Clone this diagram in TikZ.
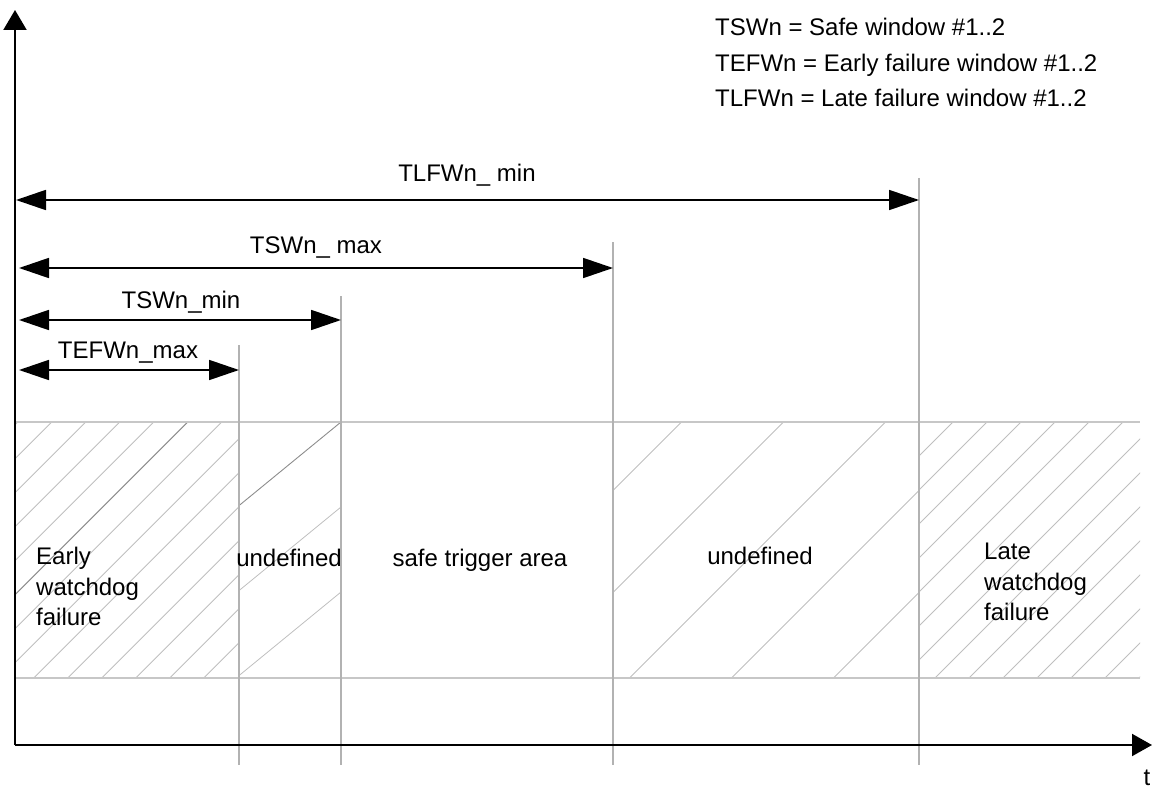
\documentclass[tikz,border=0pt]{standalone}
\usepackage{fontspec}
\setmainfont{Liberation Sans}
\usetikzlibrary{arrows.meta}
\begin{document}
\begin{tikzpicture}[x=1pt,y=-1pt,
  axis/.style={line width=2pt, black},
  dimarrow/.style={line width=1.8pt, black, {Triangle[length=30pt,width=20pt]}-{Triangle[length=30pt,width=20pt]}},
  gridline/.style={line width=1.4pt, black!30},
  hgrid/.style={line width=1.2pt, black!22},
  hatch/.style={line width=0.8pt, black!25},
  darkhatch/.style={line width=0.9pt, black!45},
  lbl/.style={font=\fontsize{24}{30.5}\selectfont, inner sep=0pt, align=left},
  ]
\useasboundingbox (0,0) rectangle (1157,789);

% ---------- hatching ----------
\begin{scope}
  \clip (15,422) rectangle (239,678);
  \foreach \k in {-1,...,14} {
    \pgfmathsetmacro\c{473.7+34*\k}
    \draw[hatch] ({\c-422},422) -- ({\c-678},678);
  }
  \draw[darkhatch] ({473.7+34*4-422},422) -- ({473.7+34*4-678},678);
\end{scope}
\begin{scope}
  \clip (239,422) rectangle (341,678);
  \draw[darkhatch] (341,422) -- (239,505.6);
  \foreach \k in {1,2} {
    \draw[hatch] (341,{422+85*\k}) -- (239,{505.6+85*\k});
  }
\end{scope}
\begin{scope}
  \clip (613,422) rectangle (919,678);
  \foreach \k in {-1,...,5} {
    \pgfmathsetmacro\c{1103.5+102*\k}
    \draw[hatch] ({\c-422},422) -- ({\c-678},678);
  }
\end{scope}
\begin{scope}
  \clip (919,422) rectangle (1140,678);
  \foreach \k in {-1,...,14} {
    \pgfmathsetmacro\c{1375+34*\k}
    \draw[hatch] ({\c-422},422) -- ({\c-678},678);
  }
\end{scope}

% ---------- coordinates ----------
\coordinate (hl1a) at (15,422);  \coordinate (hl1b) at (1140,422);
\coordinate (hl2a) at (15,678);  \coordinate (hl2b) at (1140,678);
\coordinate (v1t) at (239,345);  \coordinate (v1b) at (239,765);
\coordinate (v2t) at (341,296);  \coordinate (v2b) at (341,765);
\coordinate (v3t) at (613,242);  \coordinate (v3b) at (613,765);
\coordinate (v4t) at (919,178);  \coordinate (v4b) at (919,765);
\coordinate (origin) at (15,745);
\coordinate (ytip) at (15,10);
\coordinate (xtip) at (1152,745);

\coordinate (a1l) at (16,200);  \coordinate (a1r) at (919,200);
\coordinate (a2l) at (19,268);  \coordinate (a2r) at (613,268);
\coordinate (a3l) at (19,320);  \coordinate (a3r) at (341,320);
\coordinate (a4l) at (19,370);  \coordinate (a4r) at (239,370);

% ---------- grid lines ----------
\draw[hgrid] (hl1a) -- (hl1b);
\draw[hgrid] (hl2a) -- (hl2b);
\draw[gridline] (v1t) -- (v1b);
\draw[gridline] (v2t) -- (v2b);
\draw[gridline] (v3t) -- (v3b);
\draw[gridline] (v4t) -- (v4b);

% ---------- axes ----------
\draw[axis, -{Triangle[length=20pt,width=23pt]}] (origin) -- (ytip);
\draw[axis, -{Triangle[length=20pt,width=22pt]}] (origin) -- (xtip);

% ---------- dimension arrows ----------
\draw[dimarrow] (a1l) -- (a1r);
\draw[dimarrow] (a2l) -- (a2r);
\draw[dimarrow] (a3l) -- (a3r);
\draw[dimarrow] (a4l) -- (a4r);

% ---------- labels ----------
\node[lbl] (l1) at (467,175) {TLFWn\_ min};
\node[lbl] (l2) at (316,248) {TSWn\_ max};
\node[lbl] (l3) at (181,302) {TSWn\_min};
\node[lbl] (l4) at (128,353) {TEFWn\_max};

\node[lbl, anchor=base west] (leg1) at (715,36) {TSWn = Safe window \#1..2};
\node[lbl, anchor=base west] (leg2) at (715,72) {TEFWn = Early failure window \#1..2};
\node[lbl, anchor=base west] (leg3) at (715,107) {TLFWn = Late failure window \#1..2};

\node[lbl, anchor=north west] (early) at (36,547) {Early\\watchdog\\failure};
\node[lbl] (und1) at (289,558) {undefined};
\node[lbl] (safe) at (480,560) {safe trigger area};
\node[lbl] (und2) at (760,556) {undefined};
\node[lbl, anchor=north west] (late) at (984,543) {Late\\watchdog\\failure};

\node[lbl] (tlab) at (1147,778) {t};
\end{tikzpicture}
\end{document}
